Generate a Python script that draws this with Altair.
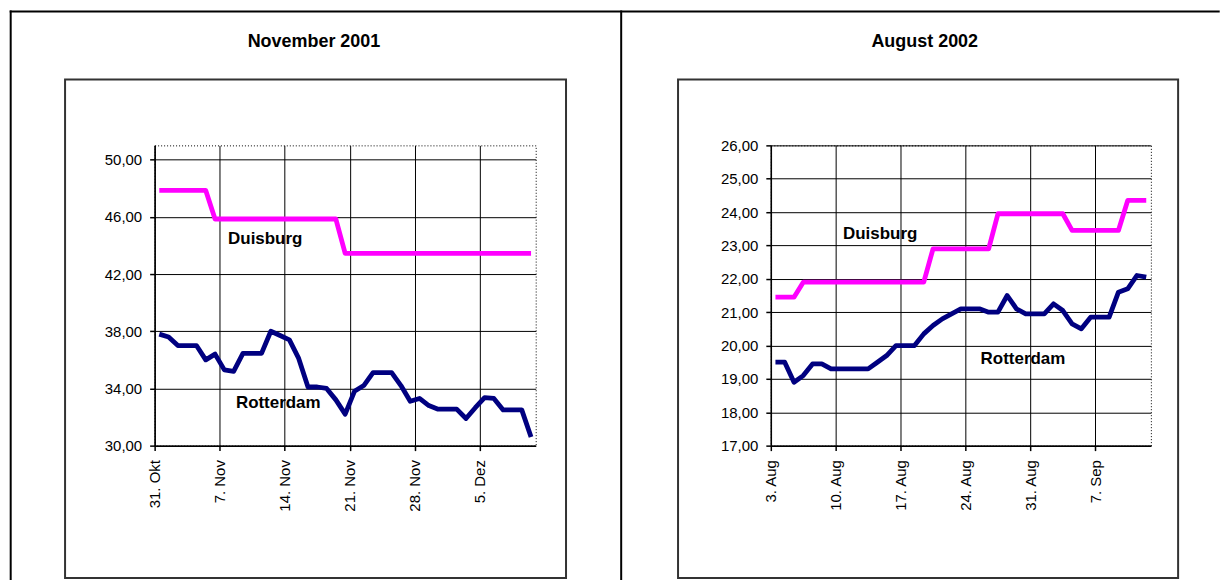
import json
import pandas as pd
import altair as alt

FONT = "Liberation Sans"

# ---------------- data ----------------
# Panel 1: November 2001 (daily, 31 Oct 2001 .. 10 Dec 2001)
nov_start, nov_end = "2001-10-31", "2001-12-10"
nov_duisburg = [47.85, 47.85, 47.85, 47.85, 47.85, 47.85,
                45.85, 45.85, 45.85, 45.85, 45.85, 45.85, 45.85, 45.85, 45.85, 45.85, 45.85, 45.85, 45.85, 45.85,
                43.45, 43.45, 43.45, 43.45, 43.45, 43.45, 43.45, 43.45, 43.45, 43.45, 43.45, 43.45, 43.45, 43.45,
                43.45, 43.45, 43.45, 43.45, 43.45, 43.45, 43.45]
nov_rotterdam = [37.8, 37.6, 37.0, 37.0, 37.0, 36.0, 36.4, 35.3, 35.2, 36.45, 36.45, 36.45,
                 38.0, 37.7, 37.4, 36.1, 34.1, 34.1, 34.0, 33.2, 32.2, 33.8, 34.2, 35.1, 35.1, 35.1,
                 34.2, 33.1, 33.3, 32.8, 32.55, 32.55, 32.55, 31.9, 32.65, 33.35, 33.3, 32.5, 32.5, 32.5, 30.6]
nov_y_ticks = [30, 34, 38, 42, 46, 50]
nov_x_labels = ["31. Okt", "7. Nov", "14. Nov", "21. Nov", "28. Nov", "5. Dez"]

# Panel 2: August 2002 (daily, 3 Aug 2002 .. 12 Sep 2002)
aug_start, aug_end = "2002-08-03", "2002-09-12"
aug_duisburg = [21.45, 21.45, 21.45,
                21.9, 21.9, 21.9, 21.9, 21.9, 21.9, 21.9, 21.9, 21.9, 21.9, 21.9, 21.9, 21.9, 21.9,
                22.9, 22.9, 22.9, 22.9, 22.9, 22.9, 22.9,
                23.95, 23.95, 23.95, 23.95, 23.95, 23.95, 23.95, 23.95,
                23.45, 23.45, 23.45, 23.45, 23.45, 23.45,
                24.35, 24.35, 24.35]
aug_rotterdam = [19.5, 19.5, 18.9, 19.1, 19.45, 19.45, 19.3, 19.3, 19.3, 19.3, 19.3, 19.5, 19.7,
                 20.0, 20.0, 20.0, 20.35, 20.6, 20.8, 20.95, 21.1, 21.1, 21.1, 21.0, 21.0, 21.5,
                 21.1, 20.95, 20.95, 20.95, 21.25, 21.05, 20.65, 20.5, 20.85, 20.85, 20.85, 21.6,
                 21.7, 22.1, 22.05]
aug_y_ticks = [17, 18, 19, 20, 21, 22, 23, 24, 25, 26]
aug_x_labels = ["3. Aug", "10. Aug", "17. Aug", "24. Aug", "31. Aug", "7. Sep"]

series_names = ["Duisburg", "Rotterdam"]
series_colors = ["#FF00FF", "#000080"]

# label anchors (data coordinates: day index, price)
nov_label_pos = {"Duisburg": (11.9, 44.45), "Rotterdam": (13.3, 32.95)}
aug_label_pos = {"Duisburg": (11.8, 23.34), "Rotterdam": (27.2, 19.6)}

ONE = alt.Data(values=[{}])


def build_df(start, end, duis, rott):
    dates = pd.date_range(start, end, freq="D")
    day = [(d - dates[0]).days + 0.5 for d in dates]  # Excel "between tick marks"
    a = pd.DataFrame({"day": day, "value": duis, "series": "Duisburg"})
    b = pd.DataFrame({"day": day, "value": rott, "series": "Rotterdam"})
    return pd.concat([a, b], ignore_index=True), len(dates)


def panel(start, end, duis, rott, ydom, yticks, xlabels, label_pos, title,
          title_x, box, width, extra):
    df, n = build_df(start, end, duis, rott)
    xexpr = json.dumps(xlabels) + "[round(datum.value / 7)]"
    xenc = alt.X("day:Q", title=None,
                 scale=alt.Scale(domain=[0, n], nice=False, zero=False),
                 axis=alt.Axis(values=[7 * i for i in range(len(xlabels))],
                               labelExpr=xexpr, labelAngle=-90, labelAlign="right",
                               labelBaseline="middle", labelPadding=9,
                               labelOverlap=False))
    yenc = alt.Y("value:Q", title=None,
                 scale=alt.Scale(domain=ydom, nice=False, zero=False),
                 axis=alt.Axis(values=yticks, labelPadding=8, labelOverlap=False,
                               labelExpr="replace(format(datum.value, '.2f'), '.', ',')"))
    lines = alt.Chart(df).mark_line(strokeWidth=4.8, strokeJoin="round").encode(
        x=xenc, y=yenc,
        color=alt.Color("series:N", legend=None,
                        scale=alt.Scale(domain=series_names, range=series_colors)))
    ldf = pd.DataFrame({"label": list(label_pos.keys()),
                        "day": [v[0] for v in label_pos.values()],
                        "value": [v[1] for v in label_pos.values()]})
    labels = alt.Chart(ldf).mark_text(font=FONT, fontSize=17, fontWeight="bold",
                                      color="#000").encode(
        x=xenc, y=yenc, text="label:N")
    bx0, bx1, by0, by1 = box
    frame = alt.Chart(ONE).mark_rect(fillOpacity=0, stroke="#333", strokeWidth=2).encode(
        x=alt.value(bx0), x2=alt.value(bx1), y=alt.value(by0), y2=alt.value(by1))
    ttl = alt.Chart(ONE).mark_text(text=title, font=FONT, fontSize=18, fontWeight="bold",
                                   align="center", baseline="middle", color="#000").encode(
        x=alt.value(title_x), y=alt.value(-103.3))
    return alt.layer(frame, ttl, *extra, lines, labels).properties(width=width, height=301)


def vrule(x, y0, y1):
    return alt.Chart(ONE).mark_rule(color="#000", strokeWidth=2).encode(
        x=alt.value(x), y=alt.value(y0), y2=alt.value(y1))


def hrule(x0, x1, y):
    return alt.Chart(ONE).mark_rule(color="#000", strokeWidth=2).encode(
        x=alt.value(x0), x2=alt.value(x1), y=alt.value(y))


outer = [vrule(-144.3, -135.3, 436.7), hrule(-145.3, 1067.7, -134.3), vrule(467.7, -135.3, 436.7)]

left = panel(nov_start, nov_end, nov_duisburg, nov_rotterdam, [30, 51], nov_y_ticks,
             nov_x_labels, nov_label_pos, "November 2001", 159.7,
             (-89.8, 412.4, -66, 433.7), 382, outer)
right = panel(aug_start, aug_end, aug_duisburg, aug_rotterdam, [17, 26], aug_y_ticks,
              aug_x_labels, aug_label_pos, "August 2002", 154.3,
              (-93, 408.3, -66, 433.7), 381, [])

chart = alt.hconcat(left, right, spacing=235.7, bounds="flush").properties(
    padding=0, background="white"
).configure_view(
    stroke="#000", strokeDash=[1, 2], strokeWidth=1
).configure_axis(
    grid=True, gridColor="#000", gridWidth=1, gridOpacity=1,
    domainColor="#000", domainWidth=1.5, tickColor="#000", tickSize=5, tickWidth=1.5,
    labelFont=FONT, labelFontSize=15, labelColor="#000"
)

chart.save("out.html", embed_options={"renderer": "svg", "actions": False})
